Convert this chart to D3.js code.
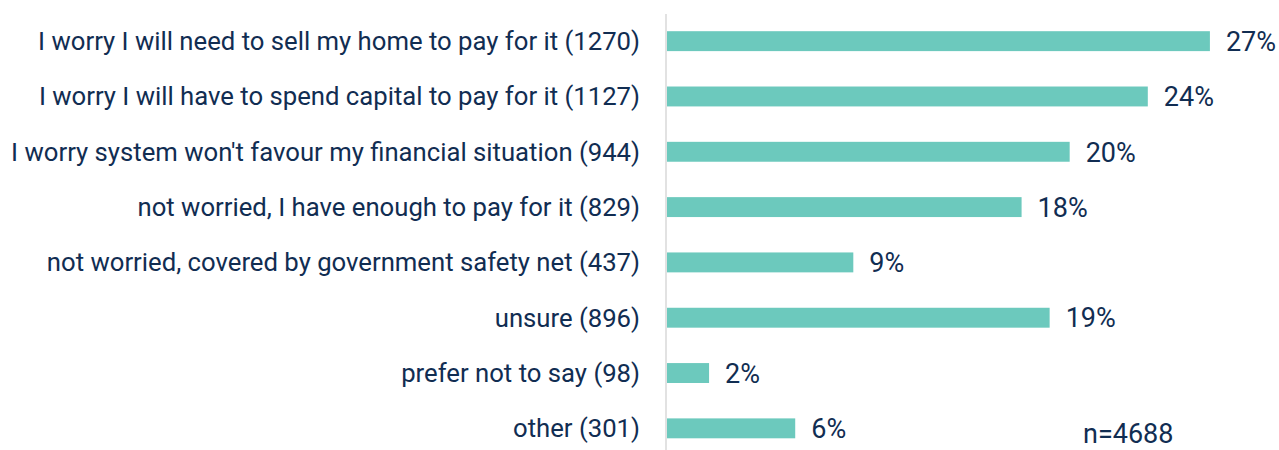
<!DOCTYPE html>
<html><head><meta charset="utf-8">
<script src="https://cdn.jsdelivr.net/npm/d3@7"></script>
<style>body{margin:0;background:#fff}svg{display:block}</style>
</head><body>
<svg id="c" width="1279" height="450"></svg>
<script>
const categories = [
  "I worry I will need to sell my home to pay for it (1270)",
  "I worry I will have to spend capital to pay for it (1127)",
  "I worry system won't favour my financial situation (944)",
  "not worried, I have enough to pay for it (829)",
  "not worried, covered by government safety net (437)",
  "unsure (896)",
  "prefer not to say (98)",
  "other (301)"
];
const values = [27.1, 24.0, 20.1, 17.7, 9.3, 19.1, 2.1, 6.4];
const noteText = "n=4688";

const svg = d3.select("#c");
const font = "Roboto, sans-serif";
const textColor = "#112d52";
const x = d3.scaleLinear().domain([0, 30]).range([667, 667 + 601]);
const y = d3.scaleBand().domain(categories).range([13.5, 456]).paddingInner(0.64).paddingOuter(0.32);

svg.append("line").attr("x1", 666).attr("x2", 666).attr("y1", 14).attr("y2", 450)
  .attr("stroke", "#d9d9d9").attr("stroke-width", 1.5);

svg.selectAll("rect.bar").data(values).join("rect").attr("class", "bar")
  .attr("x", x(0)).attr("y", (d, i) => y(categories[i]))
  .attr("width", d => x(d) - x(0)).attr("height", y.bandwidth())
  .attr("fill", "#6cc9bd");

svg.selectAll("text.cat").data(categories).join("text").attr("class", "cat")
  .attr("x", 640).attr("y", d => y(d) + y.bandwidth() / 2)
  .attr("dy", "0.35em").attr("text-anchor", "end")
  .attr("font-family", font).attr("font-size", 25.7).attr("fill", textColor)
  .text(d => d);

svg.selectAll("text.val").data(values).join("text").attr("class", "val")
  .attr("x", d => x(d) + 16).attr("y", (d, i) => y(categories[i]) + y.bandwidth() / 2)
  .attr("dy", "0.36em")
  .attr("font-family", font).attr("font-size", 27).attr("fill", textColor)
  .text(d => Math.round(d) + "%");

svg.append("text").attr("x", 1083).attr("y", 443)
  .attr("font-family", font).attr("font-size", 27).attr("fill", textColor)
  .text(noteText);
</script>
</body></html>
